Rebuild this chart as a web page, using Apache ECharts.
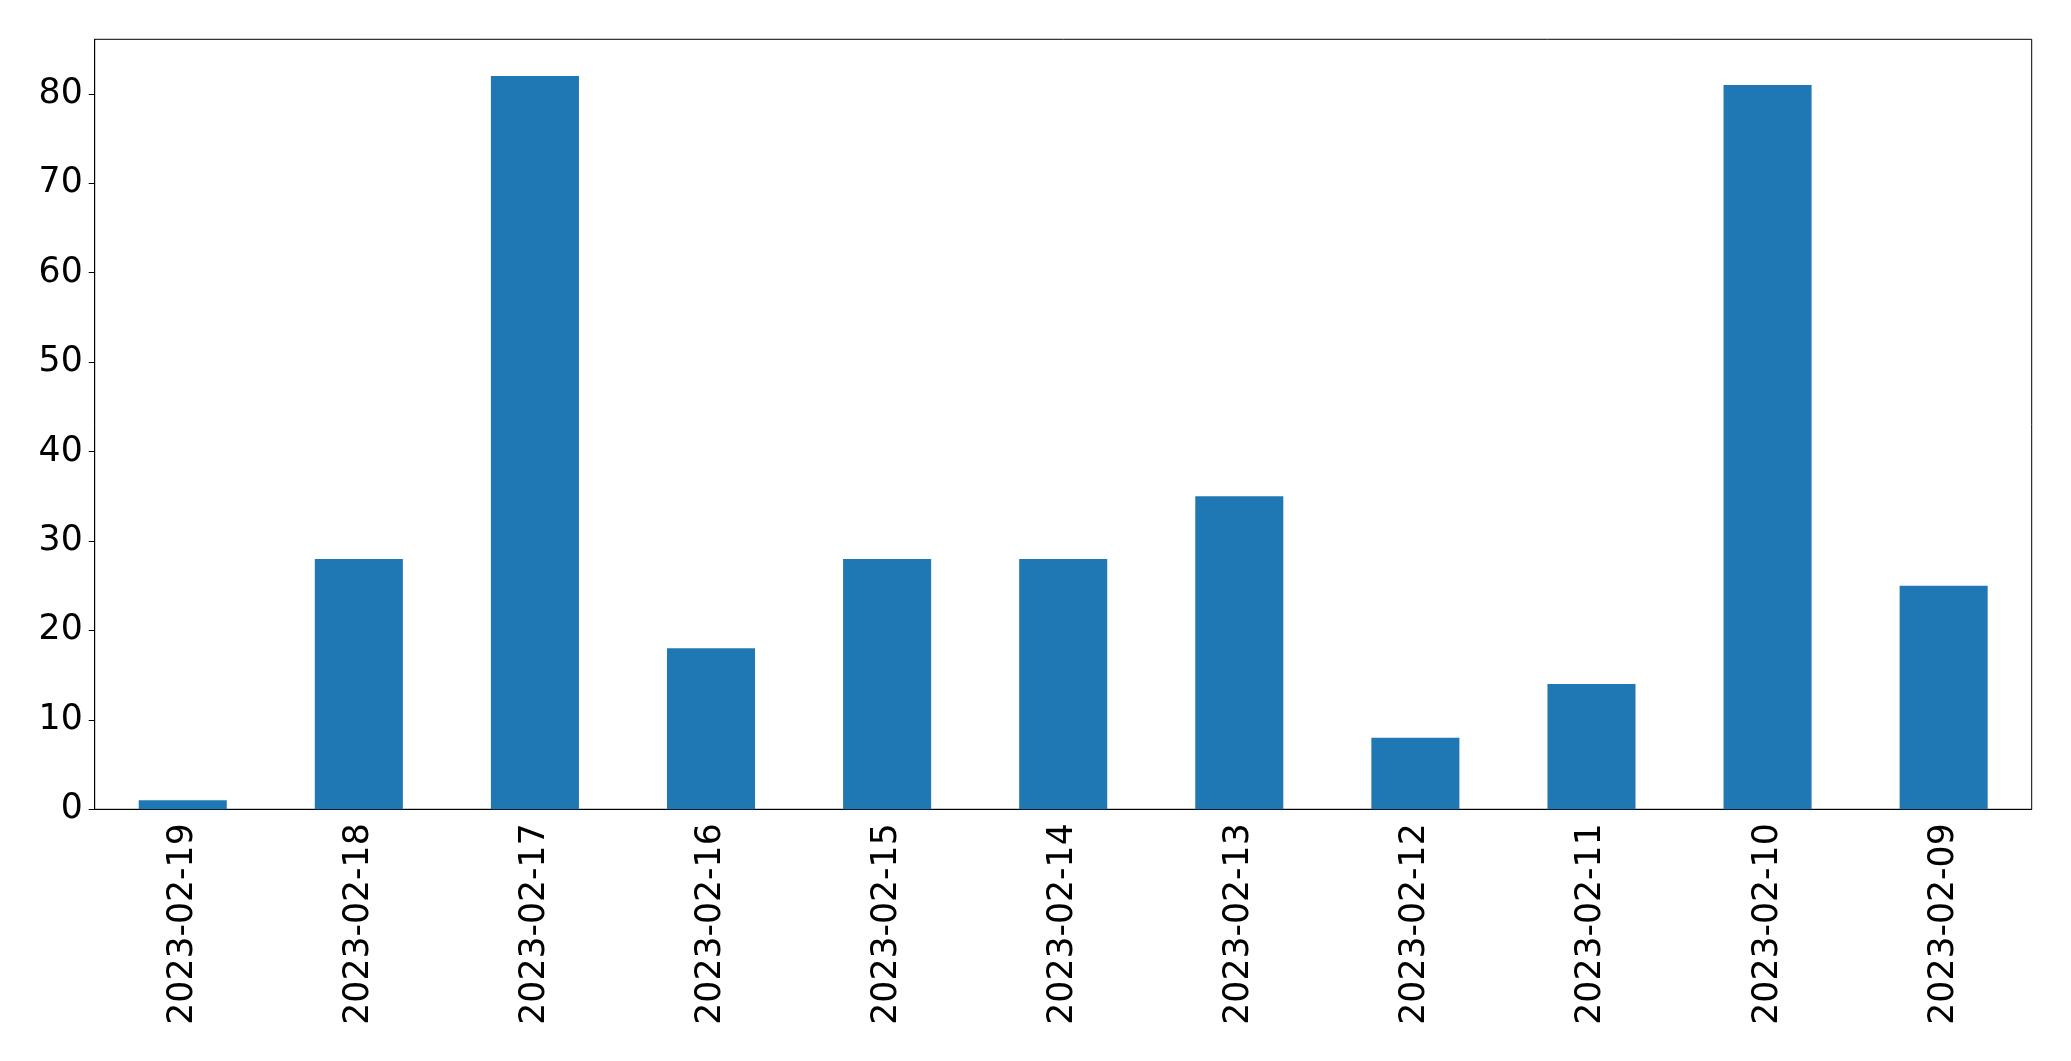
<!DOCTYPE html>
<html>
<head>
<meta charset="utf-8">
<script src="https://cdn.jsdelivr.net/npm/echarts@6/dist/echarts.min.js"></script>
<style>
html,body{margin:0;padding:0;background:#fff;}
#chart{width:2071px;height:1061px;}
</style>
</head>
<body>
<div id="chart"></div>
<script>
const categories = ["2023-02-19","2023-02-18","2023-02-17","2023-02-16","2023-02-15","2023-02-14","2023-02-13","2023-02-12","2023-02-11","2023-02-10","2023-02-09"];
const values = [1, 28, 82, 18, 28, 28, 35, 8, 14, 81, 25];
const yTicks = [0, 10, 20, 30, 40, 50, 60, 70, 80];

const chart = echarts.init(document.getElementById('chart'), null, {renderer: 'canvas'});
const font = 'DejaVu Sans';
const fs = 34.67;
chart.setOption({
  animation: false,
  backgroundColor: '#ffffff',
  grid: {
    left: 94.7, right: 39.3, top: 39.3, bottom: 251.7,
    show: true, borderColor: '#000', borderWidth: 1, backgroundColor: 'transparent'
  },
  xAxis: {
    type: 'category',
    data: categories,
    boundaryGap: true,
    axisLine: {lineStyle: {color: '#000', width: 1}},
    axisTick: {alignWithLabel: true, length: 6, lineStyle: {color: '#000', width: 1}},
    axisLabel: {rotate: 90, color: '#000', fontFamily: font, fontSize: fs, margin: 14, interval: 0}
  },
  yAxis: {
    type: 'value',
    min: 0,
    max: 86.1,
    interval: 10,
    splitLine: {show: false},
    axisLine: {show: true, lineStyle: {color: '#000', width: 1}},
    axisTick: {show: true, length: 6, customValues: yTicks, lineStyle: {color: '#000', width: 1}},
    axisLabel: {
      color: '#000', fontFamily: font, fontSize: fs, margin: 12,
      customValues: yTicks
    }
  },
  series: [{
    type: 'bar',
    data: values,
    barWidth: '50%',
    itemStyle: {color: '#1f77b4'}
  }]
});
</script>
</body>
</html>
